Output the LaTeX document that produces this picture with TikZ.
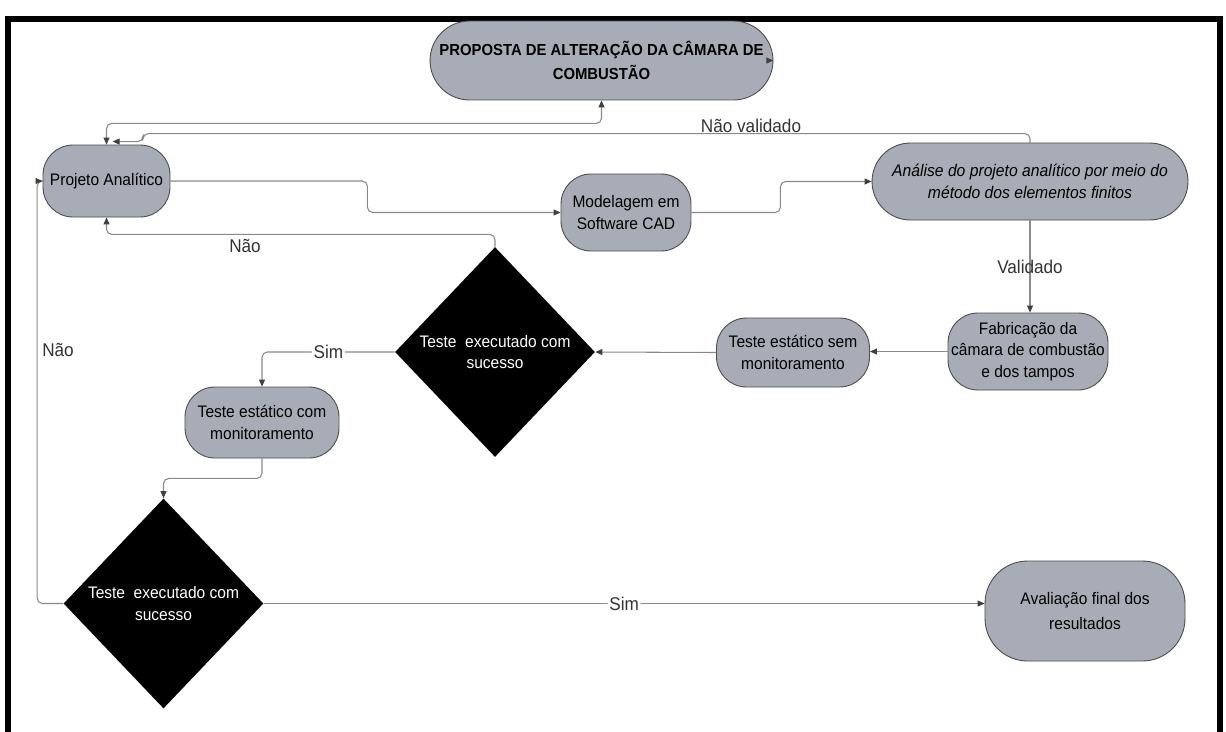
\documentclass[tikz,border=0pt]{standalone}
\usepackage{fontspec}
\setmainfont{Liberation Sans}[FakeStretch=0.93]
\usetikzlibrary{shapes.geometric,arrows.meta,calc}
\definecolor{cinza}{HTML}{A8ACB6}
\definecolor{linha}{HTML}{8A8A8A}
\tikzset{
  seta/.tip={Triangle[length=4pt,width=3.4pt,color=black!75]},
  proc/.style={draw=black!70, line width=0.5pt, fill=cinza, rounded corners=0.6cm,
    align=center, inner sep=0pt, font=\fontsize{9.5}{12.3}\selectfont},
  decisao/.style={diamond, fill=black, text=white, align=center, inner sep=0pt,
    minimum width=4cm, minimum height=4.2cm, font=\fontsize{9.5}{12}\selectfont},
  conn/.style={draw=linha, line width=0.6pt, rounded corners=3pt, -seta},
  rotulo/.style={text=black!80, font=\fontsize{10.5}{12}\selectfont}
}
\begin{document}
\begin{tikzpicture}[x=0.02cm,y=-0.02cm]
  \fill[white] (0,0) rectangle (1226,731);
  \useasboundingbox (0,0) rectangle (1226,731);
  \draw[line width=3pt] (8,740) -- (8,19) -- (1220,19) -- (1220,740);

  \node[proc, minimum width=6.86cm, minimum height=1.58cm, rounded corners=0.79cm,
    font=\bfseries\fontsize{9.1}{14}\selectfont] (prop) at (601.5,60.5)
    {PROPOSTA DE ALTERAÇÃO DA CÂMARA DE\\COMBUSTÃO};
  \node[proc, minimum width=2.54cm, minimum height=1.44cm] (proj) at (106.5,181) {Projeto Analítico};
  \node[proc, minimum width=2.6cm, minimum height=1.54cm] (model) at (626,212.5) {Modelagem em\\Software CAD};
  \node[proc, minimum width=6.32cm, minimum height=1.54cm, rounded corners=0.77cm,
    font=\itshape\fontsize{9.6}{12.5}\selectfont] (anal) at (1030,181.5)
    {Análise do projeto analítico por meio do\\método dos elementos finitos};
  \node[proc, minimum width=3.2cm, minimum height=1.54cm] (fab) at (1028,351.5) {Fabricação da\\câmara de combustão\\e dos tampos};
  \node[proc, minimum width=3.06cm, minimum height=1.38cm] (tsem) at (793,352.5) {Teste estático sem\\monitoramento};
  \node[decisao] (dec1) at (495,352) {Teste\ \ executado com\\sucesso};
  \node[proc, minimum width=3.08cm, minimum height=1.42cm] (tcom) at (262,422.5) {Teste estático com\\monitoramento};
  \node[decisao] (dec2) at (163.5,603.5) {Teste\ \ executado com\\sucesso};
  \node[proc, minimum width=4cm, minimum height=2cm, rounded corners=0.85cm,
    font=\fontsize{9.5}{14}\selectfont] (aval) at (1085,611) {Avaliação final dos\\resultados};

  \draw[conn, seta-seta] (proj.north) |- ([yshift=-0.46cm]prop.south) -- (prop.south);
  \draw[conn] ([xshift=-0.1cm]prop.east) -- (prop.east);
  \draw[conn] (anal.north) |- ($(proj.north)+(36.5,-11)$) |- ([xshift=0.12cm,yshift=0.06cm]proj.north);
  \node[rotulo] (lnval) at (751,126) {Não validado};
  \draw[conn] (proj.east) -- ++(197,0) |- (model.west);
  \draw[conn] (model.east) -- ++(89,0) |- (anal.west);
  \draw[conn] (anal.south) -- node[rotulo] (lval) {Validado} (anal.south |- fab.north);
  \draw[conn] (fab.west) -- (fab.west -| tsem.east);
  \draw[conn] (tsem.west) -- (dec1.east);
  \draw[conn] (dec1.west) -| node[rotulo, fill=white, pos=0.25, inner sep=1pt] (lsim1) {Sim} (tcom.north);
  \draw[conn] (dec1.north) |- ([yshift=-0.34cm]proj.south) -- (proj.south);
  \node[rotulo] (lnao1) at (245,246) {Não};
  \draw[conn] (tcom.south) -- ++(0,20) -| (dec2.north);
  \draw[conn] (dec2.west) -- ++(-26,0) |- (proj.west);
  \node[rotulo] (lnao2) at (58,350) {Não};
  \draw[conn] (dec2.east) -- node[rotulo, fill=white, inner sep=1pt] (lsim2) {Sim} (dec2.east -| aval.west);
\end{tikzpicture}
\end{document}
